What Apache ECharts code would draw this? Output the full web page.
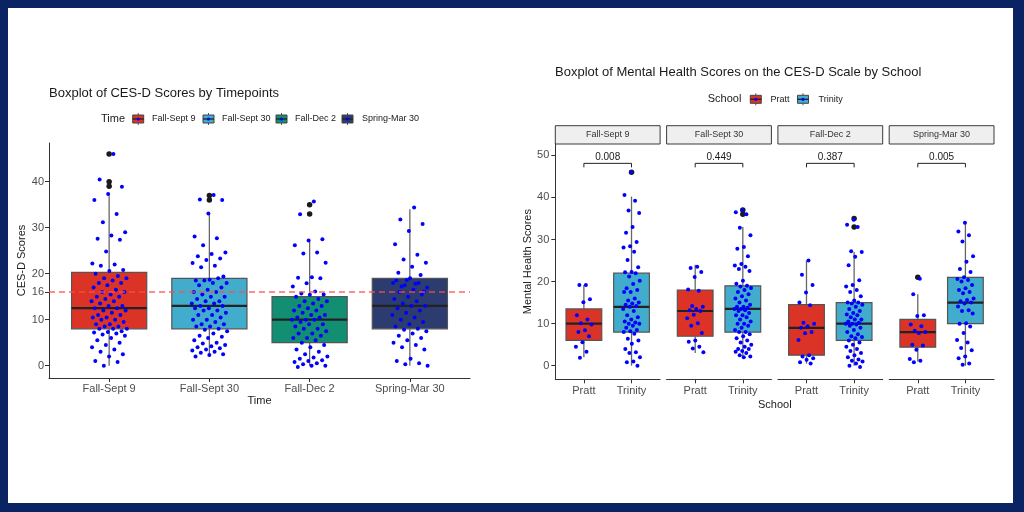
<!DOCTYPE html>
<html>
<head>
<meta charset="utf-8">
<script src="https://cdn.jsdelivr.net/npm/echarts@6/dist/echarts.min.js"></script>
<style>
html,body{margin:0;padding:0;background:#fff;}
#chart{width:1024px;height:512px;}
</style>
</head>
<body>
<div id="chart"></div>
<script>
// ---------------- DATA ----------------
const timeCats = ['Fall-Sept 9', 'Fall-Sept 30', 'Fall-Dec 2', 'Spring-Mar 30'];
const yTicksLeft = [0, 10, 16, 20, 30, 40];
const cutoff = 16;
// box stats: [lowWhisker, q1, median, q3, highWhisker]
const boxSept9 = [0, 8, 12.5, 20.3, 37];
const boxSept30 = [2, 8, 13, 19, 33];
const boxDec2 = [0, 5, 10, 15, 27];
const boxMar30 = [0, 8, 13, 19, 34];
const outSept9 = [46, 40, 39];
const outSept30 = [37, 36];
const outDec2 = [35, 33];
const outMar30 = [];
const scoresSept9 = [46, 40.5, 38.9, 37.3, 36, 33, 31.2, 29, 28.3, 27.6, 27.4, 24.8, 22.2, 22, 21.7, 20.8, 20.6,
  20, 19.5, 19, 19, 18.5, 18, 18, 17.5, 17, 16.5, 16, 16, 15.5, 15, 15, 14.5, 14, 14, 13.5, 13, 13, 12.5, 12.5, 12, 12,
  11.5, 11, 11, 10.5, 10.5, 10, 10, 9.5, 9, 9, 8.5, 8.5, 8, 8, 8,
  7.5, 7.3, 7.2, 7, 6.8, 6.5, 6, 5.5, 5, 4.5, 4, 3.5, 3, 2.5, 2, 1, 0.8, 0];
const scoresSept30 = [37.1, 36.1, 36, 33.1, 28.1, 27.7, 26.2, 24.6, 24.3, 23.8, 23.3, 23, 22.3, 21.7, 21.4, 19.4, 18.7, 18.5,
  19, 18.5, 18, 18, 17.5, 17, 16.5, 16, 16, 15.5, 15, 15, 14.5, 14, 14, 13.5, 13.5, 13, 13, 12.5, 12.5, 12, 12, 11.5, 11, 11,
  10.5, 10, 10, 9.5, 9, 9, 8.5, 8.5, 8,
  7.8, 7.5, 7, 6.5, 6.3, 6, 5.5, 5, 4.8, 4.5, 4.2, 4, 3.8, 3.5, 3.3, 3, 2.8, 2.5, 2.3, 2];
const scoresDec2 = [35.7, 32.9, 27.5, 27.2, 26.2, 24.6, 24.4, 22.4, 19.2, 19.1, 19, 17.9, 17.2, 16.1, 15.7, 15.5, 15.4,
  15, 14.5, 14, 14, 13.5, 13, 13, 12.5, 12, 12, 11.5, 11, 11, 10.5, 10.5, 10, 10, 10, 9.5, 9, 9, 8.5, 8, 8, 7.5, 7, 7, 6.5,
  6, 6, 5.5, 5,
  4.5, 4, 3.5, 3, 2.5, 2, 1.8, 1.5, 1.2, 1, 0.8, 0.5, 0.3, 0, 0, -0.3];
const scoresMar30 = [34.4, 31.8, 30.8, 29.3, 26.4, 24.1, 23.1, 22.4, 21.5, 20.2, 19.7, 18.6, 18, 17.8, 17.2, 16.1,
  19, 18.5, 18, 17.5, 17, 16.5, 16, 15.5, 15, 14.5, 14, 13.5, 13, 13, 12.5, 12, 11.5, 11, 10.5, 10, 9.5, 9, 8.5, 8,
  7.8, 7.5, 7, 6.5, 6, 5.5, 5, 4.5, 4, 3.5, 1.5, 1, 0.5, 0.3, 0];

const facetCats = ['Fall-Sept 9', 'Fall-Sept 30', 'Fall-Dec 2', 'Spring-Mar 30'];
const schools = ['Pratt', 'Trinity'];
const yTicksRight = [0, 10, 20, 30, 40, 50];
const pValues = ['0.008', '0.449', '0.387', '0.005'];
const boxPratt = [[2, 6, 10, 13.5, 19.2], [3, 7, 13, 18, 24], [0.5, 2.5, 9, 14.5, 25], [1, 4.4, 8, 11, 17]];
const boxTrinity = [[0, 8, 14, 22, 40.2], [2, 8, 13.5, 19, 33], [0, 6, 10, 15, 27], [0, 10, 15, 21, 34]];
const outPratt = [[], [], [], [21]];
const outTrinity = [[46], [37, 36], [35, 33], []];
const prattSept9 = [19.2, 19.2, 15.8, 15.1, 12, 11, 10.1, 9.8, 8.4, 8, 7, 5.6, 4.5, 3.3, 1.9];
const trinitySept9 = [46, 40.6, 39.2, 36.9, 36.3, 33, 31.6, 29.4, 28.4, 28.1, 27.1, 25.1, 23.4, 22.3, 22.2, 22, 21.2, 20.2,
  19.4, 18.4, 18, 17.5, 17.5, 16, 15.5, 15, 14.8, 14.5, 14.2, 14, 13.5, 13, 12, 11.5, 11, 10.5, 10.3, 10, 10, 9.5, 9, 8.5,
  8.2, 8, 7.6, 6.4, 6, 5.2, 4, 3.2, 3, 2, 1, 0.8, 0];
const prattSept30 = [23.5, 23.2, 22.3, 21.1, 18.1, 17.8, 14.2, 14, 13.5, 13.2, 13, 12.1, 11.3, 10.1, 9.5, 7.8, 6, 5.7, 4.5, 4.1, 3.2];
const trinitySept30 = [37, 36.5, 36, 32.8, 31, 28.2, 27.8, 26, 24.2, 23.8, 23.5, 23, 22.5, 20.2, 19.5, 19, 18.8, 18.5, 18,
  17.5, 17, 16.5, 16, 15.5, 15, 14.5, 14, 14, 13.8, 13.5, 13.5, 13.2, 13, 12.5, 12, 12, 11.5, 11, 10.5, 10, 10, 9.5, 9, 8.5,
  8, 8, 7.5, 7, 6.5, 6, 5.5, 5, 4.5, 4, 4, 3.5, 3.3, 3, 2.5, 2.2, 2];
const prattDec2 = [25, 21.6, 19.2, 17.4, 15, 14.4, 10.2, 10, 9.4, 9, 8, 7.7, 6.1, 2.5, 2.2, 1.8, 1.4, 0.8, 0.5];
const trinityDec2 = [34.7, 33.5, 33, 27.2, 27, 25.9, 23.9, 20.3, 19.2, 18.8, 18, 17.5, 16.5, 15.5, 15, 15, 14.8, 14.5, 14,
  13.5, 13, 12.5, 12.2, 12, 11.5, 11, 11, 10.5, 10.2, 10, 10, 9.8, 9.5, 9, 8.5, 8, 7.5, 7, 6.8, 6.5, 6, 5.5, 5, 4.5, 4, 3.5,
  3, 2.5, 2, 1.5, 1.2, 1, 0.5, 0, -0.3];
const prattMar30 = [20.7, 17, 12, 11.8, 9.8, 9.4, 8.3, 8, 7.8, 5, 4.8, 3.8, 1.6, 1.2, 0.8];
const trinityMar30 = [34, 31.9, 31, 29.5, 26, 24.7, 23, 22.3, 21, 20.6, 20.4, 20, 19.2, 18.4, 18, 17.5, 17.2, 16, 15.6,
  15.3, 15, 14.8, 14.1, 13.2, 13, 12.4, 10.1, 10, 9.3, 7.8, 6.1, 5.5, 4.2, 3.7, 2.2, 1.8, 0.5, 0.2];

// ---------------- STYLE ----------------
const FONT = "'Liberation Sans', Arial, sans-serif";
const NAVY = '#0A2463';
const timeColors = ['#DC3327', '#42ACCC', '#128E72', '#2C3C6E'];
const schoolColors = ['#DC3327', '#42ACCC'];
const AXIS = '#333333';
const LABEL = '#4d4d4d';

const leftBoxes = [boxSept9, boxSept30, boxDec2, boxMar30];
const leftOut = [outSept9, outSept30, outDec2, outMar30];
const leftScores = [scoresSept9, scoresSept30, scoresDec2, scoresMar30];
const rightPratt = [prattSept9, prattSept30, prattDec2, prattMar30];
const rightTrinity = [trinitySept9, trinitySept30, trinityDec2, trinityMar30];

const JW = 0.18;
function jit(i) { return ((((i + 1) * 0.6180339887) % 1) - 0.5) * 2 * JW; }

function boxRenderer(colors) {
  return function (params, api) {
    const x = api.value(0);
    const lo = api.coord([x, api.value(1)]);
    const q1 = api.coord([x, api.value(2)]);
    const md = api.coord([x, api.value(3)]);
    const q3 = api.coord([x, api.value(4)]);
    const hi = api.coord([x, api.value(5)]);
    const w = api.size([0.75, 0])[0];
    const c = colors[api.value(6)];
    return {
      type: 'group',
      children: [
        { type: 'line', shape: { x1: hi[0], y1: hi[1], x2: q3[0], y2: q3[1] }, style: { stroke: '#666', lineWidth: 1.3 } },
        { type: 'line', shape: { x1: lo[0], y1: lo[1], x2: q1[0], y2: q1[1] }, style: { stroke: '#666', lineWidth: 1.3 } },
        { type: 'rect', shape: { x: q3[0] - w / 2, y: q3[1], width: w, height: q1[1] - q3[1] }, style: { fill: c, stroke: '#555', lineWidth: 1.2 } },
        { type: 'line', shape: { x1: md[0] - w / 2, y1: md[1], x2: md[0] + w / 2, y2: md[1] }, style: { stroke: '#222', lineWidth: 2.2 } }
      ]
    };
  };
}

function keyGlyph(x, y, color) {
  return {
    type: 'group', x: x, y: y, silent: true,
    children: [
      { type: 'line', shape: { x1: 5.5, y1: -6, x2: 5.5, y2: 6 }, style: { stroke: '#555', lineWidth: 1 } },
      { type: 'rect', shape: { x: 0, y: -4, width: 11, height: 8 }, style: { fill: color, stroke: '#444', lineWidth: 1 } },
      { type: 'line', shape: { x1: 0, y1: 0, x2: 11, y2: 0 }, style: { stroke: '#222', lineWidth: 1.3 } },
      { type: 'circle', shape: { cx: 5.5, cy: 0, r: 1.6 }, style: { fill: '#0000ff' } }
    ]
  };
}
function txt(x, y, text, size, opts) {
  return Object.assign({
    type: 'text', x: x, y: y, silent: true,
    style: { text: text, font: size + 'px ' + FONT, fill: '#1a1a1a', align: 'left', verticalAlign: 'middle' }
  }, opts || {});
}

// ---------------- LAYOUT ----------------
const grids = [{ left: 49, top: 143, width: 421, height: 235 }];
const panelLeft = [555.3, 666.6, 777.9, 889.2];
const panelW = 104.8;
panelLeft.forEach(function (l) { grids.push({ left: l, top: 144, width: panelW, height: 235.3 }); });

const xAxes = [{
  gridIndex: 0, type: 'value', min: 0.4, max: 4.6,
  axisLine: { show: true, onZero: false, lineStyle: { color: AXIS, width: 1 } },
  axisTick: { show: true, length: 4, customValues: [1, 2, 3, 4], lineStyle: { color: AXIS } },
  axisLabel: { customValues: [1, 2, 3, 4], formatter: function (v) { return timeCats[Math.round(v) - 1]; }, color: LABEL, fontSize: 11, fontFamily: FONT, margin: 5 },
  splitLine: { show: false },
  name: 'Time', nameLocation: 'middle', nameGap: 17, nameTextStyle: { color: '#1a1a1a', fontSize: 11, fontFamily: FONT }
}];
const yAxes = [{
  gridIndex: 0, type: 'value', min: -2.68, max: 48.41,
  axisLine: { show: true, onZero: false, lineStyle: { color: AXIS, width: 1 } },
  axisTick: { show: true, length: 4, customValues: yTicksLeft, lineStyle: { color: AXIS } },
  axisLabel: { customValues: yTicksLeft, color: LABEL, fontSize: 11, fontFamily: FONT, margin: 5 },
  splitLine: { show: false },
  name: 'CES-D Scores', nameLocation: 'middle', nameGap: 21, nameTextStyle: { color: '#1a1a1a', fontSize: 11, fontFamily: FONT }
}];
for (let p = 0; p < 4; p++) {
  xAxes.push({
    gridIndex: p + 1, type: 'value', min: 0.4, max: 2.6,
    axisLine: { show: true, onZero: false, lineStyle: { color: AXIS, width: 1 } },
    axisTick: { show: true, length: 4, customValues: [1, 2], lineStyle: { color: AXIS } },
    axisLabel: { customValues: [1, 2], formatter: function (v) { return schools[Math.round(v) - 1]; }, color: LABEL, fontSize: 11, fontFamily: FONT, margin: 6 },
    splitLine: { show: false }
  });
  yAxes.push({
    gridIndex: p + 1, type: 'value', min: -3.23, max: 52.70,
    axisLine: { show: p === 0, onZero: false, lineStyle: { color: AXIS, width: 1 } },
    axisTick: { show: p === 0, length: 4, customValues: yTicksRight, lineStyle: { color: AXIS } },
    axisLabel: { show: p === 0, customValues: yTicksRight, color: LABEL, fontSize: 11, fontFamily: FONT, margin: 6 },
    splitLine: { show: false },
    name: p === 0 ? 'Mental Health Scores' : '', nameLocation: 'middle', nameGap: 21,
    nameTextStyle: { color: '#1a1a1a', fontSize: 11, fontFamily: FONT }
  });
}

// ---------------- SERIES ----------------
const series = [];
series.push({
  type: 'custom', xAxisIndex: 0, yAxisIndex: 0, z: 2, silent: true,
  renderItem: boxRenderer(timeColors),
  data: leftBoxes.map(function (b, i) { return [i + 1].concat(b).concat([i]); })
});
const leftOutData = [];
leftOut.forEach(function (arr, i) { arr.forEach(function (v) { leftOutData.push([i + 1, v]); }); });
series.push({
  type: 'scatter', xAxisIndex: 0, yAxisIndex: 0, z: 3, silent: true,
  symbolSize: 5.5, itemStyle: { color: '#1a1a1a', opacity: 1 }, data: leftOutData,
  markLine: {
    silent: true, symbol: ['none', 'none'], label: { show: false },
    lineStyle: { color: '#ff4d4d', type: [6, 4], width: 1.5, opacity: 0.85 },
    data: [{ yAxis: cutoff }]
  }
});
const leftPts = [];
leftScores.forEach(function (arr, i) { arr.forEach(function (v, k) { leftPts.push([i + 1 + jit(k), v]); }); });
series.push({
  type: 'scatter', xAxisIndex: 0, yAxisIndex: 0, z: 4, silent: true,
  symbolSize: 4, itemStyle: { color: '#0000ff', opacity: 1 }, data: leftPts
});

for (let p = 0; p < 4; p++) {
  const ax = p + 1;
  series.push({
    type: 'custom', xAxisIndex: ax, yAxisIndex: ax, z: 2, silent: true,
    renderItem: boxRenderer(schoolColors),
    data: [[1].concat(boxPratt[p]).concat([0]), [2].concat(boxTrinity[p]).concat([1])]
  });
  const od = [];
  outPratt[p].forEach(function (v) { od.push([1, v]); });
  outTrinity[p].forEach(function (v) { od.push([2, v]); });
  series.push({
    type: 'scatter', xAxisIndex: ax, yAxisIndex: ax, z: 3, silent: true,
    symbolSize: 5.5, itemStyle: { color: '#1a1a1a', opacity: 1 }, data: od
  });
  const pts = [];
  rightPratt[p].forEach(function (v, k) { pts.push([1 + jit(k), v]); });
  rightTrinity[p].forEach(function (v, k) { pts.push([2 + jit(k + 3), v]); });
  series.push({
    type: 'scatter', xAxisIndex: ax, yAxisIndex: ax, z: 4, silent: true,
    symbolSize: 4, itemStyle: { color: '#0000ff', opacity: 1 }, data: pts
  });
  const label = pValues[p];
  series.push({
    type: 'custom', xAxisIndex: ax, yAxisIndex: ax, z: 5, silent: true,
    data: [[1, 2, 48.1, 47.15]],
    renderItem: function (params, api) {
      const a = api.coord([api.value(0), api.value(2)]);
      const b = api.coord([api.value(1), api.value(2)]);
      const a2 = api.coord([api.value(0), api.value(3)]);
      const b2 = api.coord([api.value(1), api.value(3)]);
      return {
        type: 'group', children: [
          { type: 'polyline', shape: { points: [a2, a, b, b2] }, style: { stroke: '#222', lineWidth: 1, fill: null } },
          { type: 'text', x: (a[0] + b[0]) / 2, y: a[1] - 1.5, style: { text: label, font: '10px ' + FONT, fill: '#1a1a1a', align: 'center', verticalAlign: 'bottom' } }
        ]
      };
    }
  });
}

// ---------------- GRAPHICS (frame, titles, legends, strips) ----------------
const graphics = [
  { type: 'rect', z: -10, silent: true, shape: { x: 0, y: 0, width: 1024, height: 512 }, style: { fill: NAVY } },
  { type: 'rect', z: -9, silent: true, shape: { x: 8, y: 8, width: 1005, height: 495 }, style: { fill: '#ffffff' } },
  txt(49, 93, 'Boxplot of CES-D Scores by Timepoints', 13),
  txt(555, 72, 'Boxplot of Mental Health Scores on the CES-D Scale by School', 13),
  txt(101, 119, 'Time', 11),
  txt(707.7, 99.3, 'School', 11),
  txt(774.8, 405, 'School', 11, {}),
];
graphics[graphics.length - 1].style.align = 'center';
const legX = [132.7, 203, 276, 342];
const legTX = [152, 222, 295, 362];
timeCats.forEach(function (c, i) {
  graphics.push(keyGlyph(legX[i], 119, timeColors[i]));
  graphics.push(txt(legTX[i], 119, c, 9, {}));
});
const sLegX = [750.3, 797.5];
const sLegTX = [770.5, 818.5];
schools.forEach(function (s, i) {
  graphics.push(keyGlyph(sLegX[i], 99.3, schoolColors[i]));
  graphics.push(txt(sLegTX[i], 99.3, s, 9, {}));
});
facetCats.forEach(function (c, i) {
  graphics.push({ type: 'rect', silent: true, shape: { x: panelLeft[i], y: 125.7, width: panelW, height: 18.3 }, style: { fill: '#efefef', stroke: '#3a3a3a', lineWidth: 1 } });
  const t = txt(panelLeft[i] + panelW / 2, 135, c, 9, {});
  t.style.align = 'center';
  t.style.fill = '#333';
  graphics.push(t);
});

const chart = echarts.init(document.getElementById('chart'), null, { renderer: 'canvas' });
chart.setOption({
  animation: false,
  backgroundColor: '#ffffff',
  textStyle: { fontFamily: FONT },
  grid: grids,
  xAxis: xAxes,
  yAxis: yAxes,
  series: series,
  graphic: graphics
});
</script>
</body>
</html>
